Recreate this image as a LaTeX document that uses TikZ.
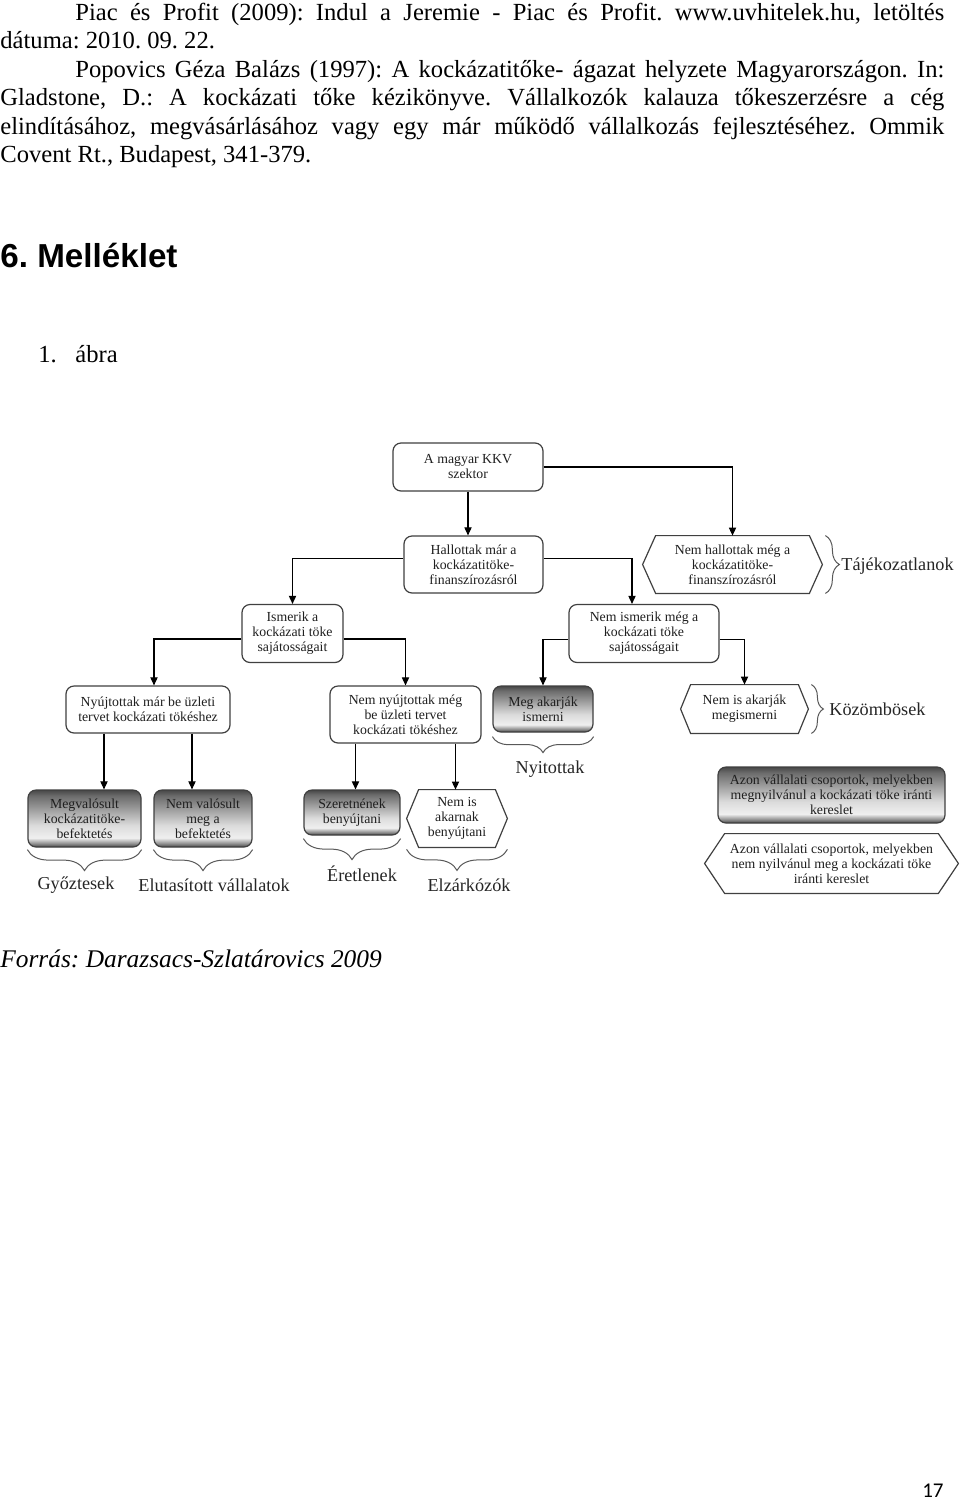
\documentclass[tikz,border=0pt]{standalone}
\usepackage{fontspec}
\setmainfont{Liberation Serif}
\newfontfamily\headfont{Liberation Sans}
\newfontfamily\pagefont{Carlito}
\usetikzlibrary{arrows.meta,decorations.pathreplacing,calc}
\frenchspacing
\pgfdeclareverticalshading{metal}{100bp}{color(0bp)=(black!72); color(25bp)=(black!72); color(28bp)=(black!45); color(33bp)=(black!6); color(44bp)=(black!14); color(58bp)=(black!38); color(70bp)=(black!58); color(75bp)=(black!72); color(100bp)=(black!72)}
\newcommand\hexframe[2]{\draw[draw=black!75, line width=0.6pt] (#1.west) -- ([xshift=#2]#1.north west) -- ([xshift=-#2]#1.north east) -- (#1.east) -- ([xshift=-#2]#1.south east) -- ([xshift=#2]#1.south west) -- cycle;}
\begin{document}
\frenchspacing
\begin{tikzpicture}[x=0.5pt,y=-0.5pt,
  body/.style={anchor=base west, inner sep=0pt, font=\fontsize{12.3}{14.25}\selectfont},
  rbox/.style={draw=black!75, line width=0.6pt, rounded corners=4pt, align=center, inner sep=0pt, font=\fontsize{6.9}{7.5}\selectfont, text=black!88},
  gbox/.style={rbox, shading=metal},
  hexn/.style={align=center, inner sep=0pt, font=\fontsize{6.9}{7.5}\selectfont, text=black!88},
  lab/.style={inner sep=0pt, font=\fontsize{9.1}{10}\selectfont, text=black!85},
  arr/.style={draw=black, line width=0.55pt, -{Triangle[length=4pt,width=3.6pt]}},
  brc/.style={draw=black!65, line width=0.5pt, decorate, decoration={brace, amplitude=#1}}]
\fill[white] (0,0) rectangle (960,1500);
\useasboundingbox (0,0) rectangle (960,1500);

% references text
\node[body] (t1) at (75,20) {\makebox[434.5pt][s]{Piac és Profit (2009): Indul a Jeremie - Piac és Profit. www.uvhitelek.hu, letöltés}};
\node[body] (t2) at (0,48.5) {dátuma: 2010. 09. 22.};
\node[body] (t3) at (75,77) {\makebox[434.5pt][s]{Popovics Géza Balázs (1997): A kockázatitőke- ágazat helyzete Magyarországon. In:}};
\node[body] (t4) at (0,105.5) {\makebox[472pt][s]{Gladstone, D.: A kockázati tőke kézikönyve. Vállalkozók kalauza tőkeszerzésre a cég}};
\node[body] (t5) at (0,134) {\makebox[472pt][s]{elindításához, megvásárlásához vagy egy már működő vállalkozás fejlesztéséhez. Ommik}};
\node[body] (t6) at (0,162.5) {Covent Rt., Budapest, 341-379.};

\node[anchor=base west, inner sep=0pt, font=\headfont\bfseries\fontsize{16.6}{20}\selectfont] (head) at (0,267) {6. Melléklet};
\node[body] (num) at (38,362) {1.};
\node[body] (abra) at (75,362) {ábra};

% diagram
\node[rbox, minimum width=75pt, minimum height=24pt] (k1) at (468,467) {A magyar KKV\\szektor};
\node[rbox, minimum width=69.5pt, minimum height=28.5pt] (k2) at (473.5,564.5) {Hallottak már a\\kockázatitöke-\\finanszírozásról};
\node[hexn, minimum width=89.5pt, minimum height=28.5pt] (k3) at (732.5,564.5) {Nem hallottak még a\\kockázatitöke-\\finanszírozásról};
\hexframe{k3}{6.5pt}
\node[rbox, minimum width=50.5pt, minimum height=29pt] (k4) at (292.5,633.5) {Ismerik a\\kockázati töke\\sajátosságait};
\node[rbox, minimum width=75pt, minimum height=29pt] (k5) at (644,633.5) {Nem ismerik még a\\kockázati töke\\sajátosságait};
\node[rbox, minimum width=82pt, minimum height=23.5pt] (k6) at (148,709.5) {Nyújtottak már be üzleti\\tervet kockázati tökéshez};
\node[rbox, minimum width=75.5pt, minimum height=28.5pt] (k7) at (405.5,714.5) {Nem nyújtottak még\\be üzleti tervet\\kockázati tökéshez};
\node[gbox, minimum width=50pt, minimum height=23pt] (k8) at (543,709) {Meg akarják\\ismerni};
\node[hexn, minimum width=63.5pt, minimum height=24pt] (k9) at (744.5,709) {Nem is akarják\\megismerni};
\hexframe{k9}{5pt}
\node[gbox, minimum width=56.5pt, minimum height=28.5pt] (k10) at (84.5,818.5) {Megvalósult\\kockázatitöke-\\befektetés};
\node[gbox, minimum width=49pt, minimum height=28.5pt] (k11) at (203,818.5) {Nem valósult\\meg a\\befektetés};
\node[gbox, minimum width=48pt, minimum height=22.5pt] (k12) at (352,812.5) {Szeretnének\\benyújtani};
\node[hexn, minimum width=50pt, minimum height=28.5pt] (k13) at (457,818.5) {Nem is\\akarnak\\benyújtani};
\hexframe{k13}{6pt}
\node[gbox, minimum width=113.5pt, minimum height=28pt] (k14) at (831.5,795) {Azon vállalati csoportok, melyekben\\megnyilvánul a kockázati töke iránti\\kereslet};
\node[hexn, minimum width=126.5pt, minimum height=29.5pt] (k15) at (831.5,863.5) {Azon vállalati csoportok, melyekben\\nem nyilvánul meg a kockázati töke\\iránti kereslet};
\hexframe{k15}{10pt}

% connectors
\draw[arr] (k1.south) -- (k1.south |- k2.north);
\draw[arr] (k1.east) -| (k3.north);
\draw[arr] ([yshift=3pt]k2.west) -| (k4.north);
\draw[arr] ([yshift=3pt]k2.east) -| ([xshift=-6pt]k5.north);
\draw[arr] ([yshift=-2.75pt]k4.west) -| ([xshift=3pt]k6.north);
\draw[arr] ([yshift=-2.75pt]k4.east) -| (k7.north);
\draw[arr] ([yshift=-3pt]k5.west) -| (k8.north);
\draw[arr] ([yshift=-3pt]k5.east) -| (k9.north);
\draw[arr] ([xshift=-22pt]k6.south) -- ([xshift=-22pt]k6.south |- k10.north);
\draw[arr] ([xshift=22pt]k6.south) -- ([xshift=22pt]k6.south |- k11.north);
\draw[arr] ([xshift=-25pt]k7.south) -- ([xshift=-25pt]k7.south |- k12.north);
\draw[arr] ([xshift=25pt]k7.south) -- ([xshift=25pt]k7.south |- k13.north);

% braces and group labels
\draw[brc=7pt] ([xshift=1.5pt]k3.north east) -- ([xshift=1.5pt]k3.south east);
\node[lab, anchor=west] (l3) at (841,566) {Tájékozatlanok};
\draw[brc=6pt] ([xshift=1.5pt]k9.north east) -- ([xshift=1.5pt]k9.south east);
\node[lab, anchor=west] (l9) at (829,709) {Közömbösek};
\draw[brc=8pt] ([yshift=-2pt]k8.south east) -- ([yshift=-2pt]k8.south west);
\node[lab] (l8) at (550,769) {Nyitottak};
\draw[brc=10.5pt] ([yshift=-1pt]k10.south east) -- ([yshift=-1pt]k10.south west);
\node[lab] (l10) at (76,885) {Győztesek};
\draw[brc=10.5pt] ([yshift=-1pt]k11.south east) -- ([yshift=-1pt]k11.south west);
\node[lab] (l11) at (214,885) {Elutasított vállalatok};
\draw[brc=10.5pt] ([yshift=-1.5pt]k12.south east) -- ([yshift=-1.5pt]k12.south west);
\node[lab] (l12) at (362,874) {Éretlenek};
\draw[brc=10.5pt] ([yshift=-1pt]k13.south east) -- ([yshift=-1pt]k13.south west);
\node[lab] (l13) at (469,885) {Elzárkózók};

% source and page number
\node[body, font=\itshape\fontsize{12.7}{14.25}\selectfont] (src) at (0,967) {Forrás: Darazsacs-Szlatárovics 2009};
\node[anchor=base east, inner sep=0pt, font=\pagefont\fontsize{10.5}{12}\selectfont] (page) at (944,1497) {17};
\end{tikzpicture}
\end{document}
